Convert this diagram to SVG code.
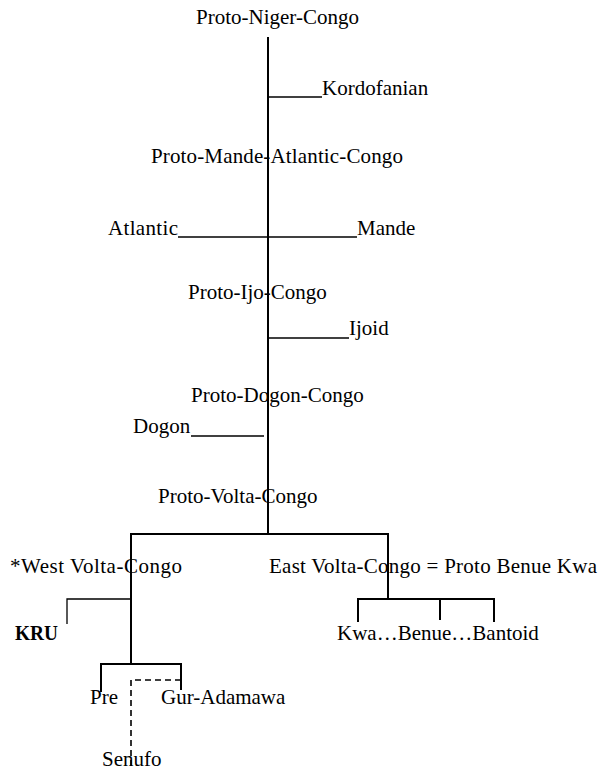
<svg xmlns="http://www.w3.org/2000/svg" width="603" height="772" viewBox="0 0 603 772">
<style>
.t{font-family:'Liberation Serif','Times New Roman',serif;font-size:21px;fill:#000}
.b{font-weight:bold}
.ln{stroke:#000;stroke-width:2;fill:none}
.ul{stroke:#000;stroke-width:1.3;fill:none}
.ds{stroke:#000;stroke-width:1.6;fill:none;stroke-dasharray:6 4}
</style>
<rect width="603" height="772" fill="#fff"/>
<g id="connectors">
<line class="ln" x1="268" y1="37" x2="268" y2="535"/>
<line class="ul" x1="269" y1="97" x2="322" y2="97"/>
<line class="ul" x1="178" y1="237" x2="357" y2="237"/>
<line class="ul" x1="269" y1="338" x2="349" y2="338"/>
<line class="ul" x1="191" y1="436" x2="264" y2="436"/>
<line class="ln" x1="131" y1="534" x2="389" y2="534"/>
<line class="ln" x1="131" y1="533" x2="131" y2="664"/>
<polyline class="ul" points="67,624 67,599 131,599"/>
<polyline class="ln" points="101,692 101,664 181,664 181,690"/>
<polyline class="ds" points="181,680 131,680 131,768"/>
<line class="ln" x1="388" y1="533" x2="388" y2="599"/>
<polyline class="ln" points="358,622 358,599 494,599 494,622"/>
<line class="ln" x1="440" y1="599" x2="440" y2="620"/>
</g>
<g class="t" font-family="Liberation Serif, Times New Roman, serif" font-size="21">
<g id="proto-niger-congo"><text x="196" y="24">Proto-Niger-Congo</text></g>
<g id="kordofanian"><text x="322" y="95">Kordofanian</text></g>
<g id="proto-mande-atlantic-congo"><text x="151" y="163" textLength="252">Proto-Mande-Atlantic-Congo</text></g>
<g id="atlantic"><text x="108" y="235" textLength="70">Atlantic</text></g>
<g id="mande"><text x="357" y="235">Mande</text></g>
<g id="proto-ijo-congo"><text x="188" y="299">Proto-Ijo-Congo</text></g>
<g id="ijoid"><text x="349" y="335">Ijoid</text></g>
<g id="proto-dogon-congo"><text x="191" y="402">Proto-Dogon-Congo</text></g>
<g id="dogon"><text x="133" y="433">Dogon</text></g>
<g id="proto-volta-congo"><text x="158" y="503">Proto-Volta-Congo</text></g>
<g id="west-volta-congo"><text x="10" y="573" textLength="172">*West Volta-Congo</text></g>
<g id="east-volta-congo"><text x="269" y="573" textLength="328">East Volta-Congo = Proto Benue Kwa</text></g>
<g id="kru"><text class="b" x="15" y="640" font-weight="bold" textLength="43" lengthAdjust="spacingAndGlyphs">KRU</text></g>
<g id="kwa-benue-bantoid"><text x="337" y="640">Kwa…Benue…Bantoid</text></g>
<g id="pre"><text x="90" y="704">Pre</text></g>
<g id="gur-adamawa"><text x="161" y="704">Gur-Adamawa</text></g>
<g id="senufo"><text x="102" y="766">Senufo</text></g>
</g>
</svg>
